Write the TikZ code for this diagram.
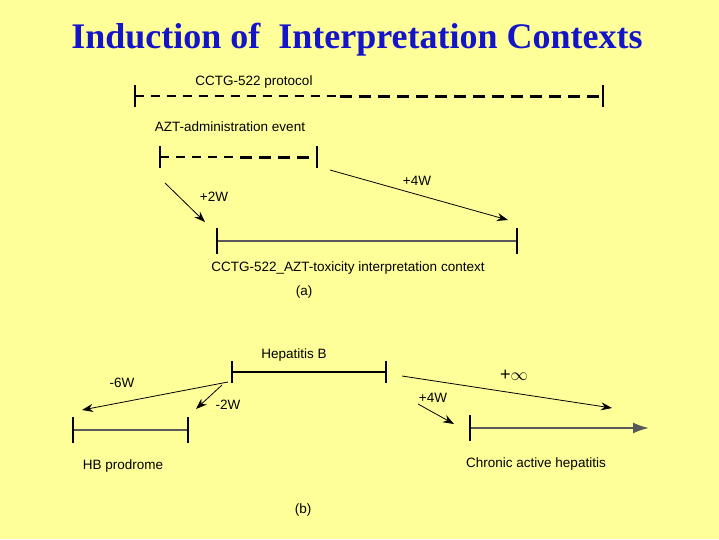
\documentclass[tikz,border=0pt]{standalone}
\usepackage{fontspec}
\setmainfont{Liberation Sans}
\newfontfamily\titlefont{Liberation Serif}
\usetikzlibrary{arrows.meta}
\definecolor{bg}{HTML}{FFFF99}
\definecolor{titleblue}{HTML}{1414C8}
\begin{document}
\begin{tikzpicture}[x=1pt,y=-1pt,
  lbl/.style={font=\fontsize{13.5}{15}\selectfont, inner sep=0pt},
  pointer/.style={-{Stealth[length=11pt,width=8pt]}, line width=0.8pt},
  interval/.style={line width=2pt},
  tickbar/.style={line width=1.5pt},
  dashthin/.style={line width=1.5pt, dash pattern=on 9pt off 7pt},
  dashthick/.style={line width=3pt, dash pattern=on 12pt off 7pt}]
\fill[bg] (0,0) rectangle (719,539);
\useasboundingbox (0,0) rectangle (719,539);
\node[font=\titlefont\bfseries\fontsize{36}{40}\selectfont, text=titleblue] (title) at (357,40) {Induction of \ Interpretation Contexts};
% (a)
\node[lbl] (prot) at (254,82) {CCTG-522 protocol};
\coordinate (p1) at (135,96); \coordinate (pm) at (340,96); \coordinate (p2) at (603,96);
\draw[dashthin] (p1) -- (pm);
\draw[dashthick] (pm) -- (p2);
\draw[tickbar] ([yshift=-11]p1) -- ([yshift=11]p1);
\draw[tickbar] ([yshift=-11]p2) -- ([yshift=11]p2);
\node[lbl] (azt) at (230,127) {AZT-administration event};
\coordinate (a1) at (160,157); \coordinate (am) at (240,157); \coordinate (a2) at (317,157);
\draw[dashthin] (a1) -- (am);
\draw[dashthick] (am) -- (a2);
\draw[tickbar] ([yshift=-11]a1) -- ([yshift=11]a1);
\draw[tickbar] ([yshift=-11]a2) -- ([yshift=11]a2);
\coordinate (s1) at (165,183); \coordinate (e1) at (205,222);
\draw[pointer] (s1) -- (e1);
\node[lbl] (w2) at (214,197) {+2W};
\coordinate (s2) at (330,170); \coordinate (e2) at (508,220);
\draw[pointer] (s2) -- (e2);
\node[lbl] (w4) at (417,181) {+4W};
\coordinate (c1) at (217,241); \coordinate (c2) at (517,241);
\draw[interval, gray!70!black] (c1) -- (c2);
\draw[tickbar] ([yshift=-13]c1) -- ([yshift=13]c1);
\draw[tickbar] ([yshift=-13]c2) -- ([yshift=13]c2);
\node[lbl] (ctx) at (348,268) {CCTG-522\_AZT-toxicity interpretation context};
\node[lbl] (la) at (304,292) {(a)};
% (b)
\node[lbl] (hb) at (294,355) {Hepatitis B};
\coordinate (h1) at (232,372); \coordinate (h2) at (386,372);
\draw[interval] (h1) -- (h2);
\draw[tickbar] ([yshift=-11]h1) -- ([yshift=11]h1);
\draw[tickbar] ([yshift=-11]h2) -- ([yshift=11]h2);
\coordinate (s3) at (228,382); \coordinate (e3) at (82,410);
\draw[pointer] (s3) -- (e3);
\node[lbl] (w6) at (122,383) {-6W};
\coordinate (s4) at (222,385); \coordinate (e4) at (196,409);
\draw[pointer] (s4) -- (e4);
\node[lbl] (wm2) at (228,405) {-2W};
\coordinate (s5) at (402,376); \coordinate (e5) at (612,408);
\draw[pointer] (s5) -- (e5);
\node[font=\fontsize{18}{20}\selectfont, inner sep=0pt] (inf) at (514,375) {+$\infty$};
\coordinate (s6) at (418,404); \coordinate (e6) at (454,424);
\draw[pointer] (s6) -- (e6);
\node[lbl] (w4b) at (433,398) {+4W};
\coordinate (l1) at (73,430); \coordinate (l2) at (188,430);
\draw[interval, gray!70!black] (l1) -- (l2);
\draw[tickbar] ([yshift=-13]l1) -- ([yshift=13]l1);
\draw[tickbar] ([yshift=-13]l2) -- ([yshift=13]l2);
\node[lbl] (prod) at (123,466) {HB prodrome};
\coordinate (r1) at (470,428); \coordinate (r2) at (649,428);
\draw[interval, gray!70!black, -{Latex[length=16pt,width=11pt]}] (r1) -- (r2);
\draw[tickbar] ([yshift=-13]r1) -- ([yshift=13]r1);
\node[lbl] (cah) at (536,464) {Chronic active hepatitis};
\node[lbl] (lb) at (303,510) {(b)};
\end{tikzpicture}
\end{document}
